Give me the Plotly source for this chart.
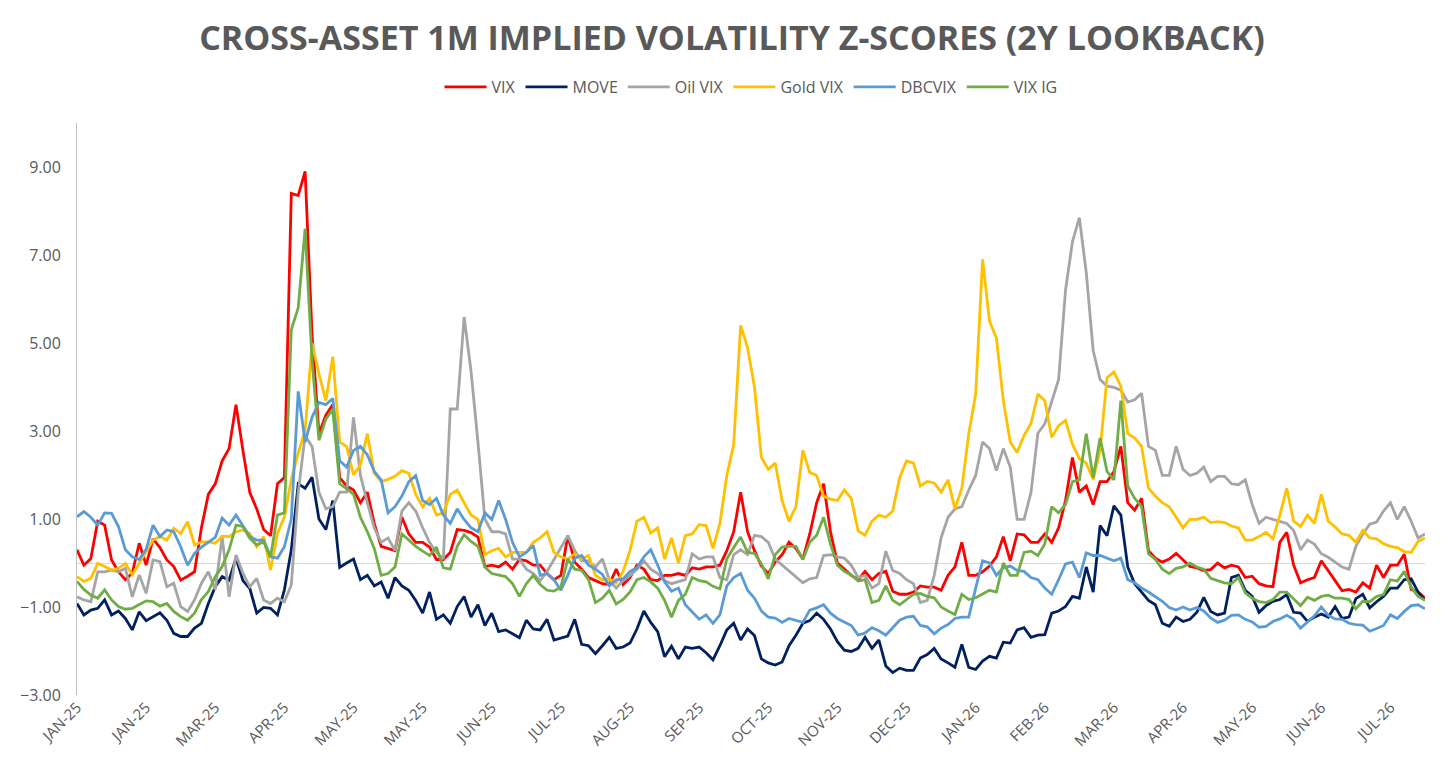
import plotly.graph_objects as go

# ---- data (one point every ~2 trading days) ----
tick_labels = ["JAN-25", "JAN-25", "MAR-25", "APR-25", "MAY-25", "MAY-25", "JUN-25", "JUL-25",
               "AUG-25", "SEP-25", "OCT-25", "NOV-25", "DEC-25", "JAN-26", "FEB-26", "MAR-26",
               "APR-26", "MAY-26", "JUN-26", "JUL-26"]

vix = [0.3, -0.05, 0.1, 0.95, 0.86, 0.07, -0.2, -0.38, -0.23, 0.45, -0.05, 0.55, 0.35, 0.07, -0.08, -0.39, -0.3, -0.2, 0.8, 1.56, 1.8, 2.32, 2.6, 3.6, 2.56, 1.6, 1.23, 0.76, 0.62, 1.8, 1.94, 8.4, 8.35, 8.9, 5.2,
       2.94, 3.36, 3.6, 1.94, 1.75, 1.66, 1.37, 1.61, 0.9, 0.38, 0.33, 0.28, 1.04, 0.66, 0.47, 0.47, 0.36, 0.08, 0.08, 0.24, 0.76, 0.74, 0.69, 0.59, -0.08, -0.05, -0.09, 0.02, -0.14, 0.08, 0.05, -0.05,
       -0.05, -0.24, -0.38, -0.28, 0.62, 0.02, -0.14, -0.33, -0.4, -0.47, -0.49, -0.14, -0.49, -0.33, -0.05, -0.14, -0.38, -0.4, -0.28, -0.28, -0.24, -0.28, -0.11, -0.14, -0.09, -0.09, -0.05, 0.28, 0.71, 1.61, 0.71, 0.28, -0.07,
       -0.24, 0.02, 0.19, 0.47, 0.33, 0.09, 0.66, 1.37, 1.8, 0.71, 0.0, -0.14, -0.28, -0.38, -0.19, -0.38, -0.24, -0.19, -0.64, -0.71, -0.71, -0.66, -0.52, -0.55, -0.55, -0.62, -0.28, -0.09, 0.47, -0.28, -0.28, -0.2, -0.07,
       0.14, 0.6, 0.05, 0.66, 0.64, 0.47, 0.47, 0.66, 0.47, 0.8, 1.42, 2.4, 1.61, 1.75, 1.33, 1.85, 1.85, 2.08, 2.65, 1.37, 1.2, 1.47, 0.28, 0.11, 0.02, 0.09, 0.22, 0.07, -0.08, -0.11, -0.17, -0.15, 0.0,
       -0.11, -0.05, -0.09, -0.33, -0.3, -0.47, -0.52, -0.54, 0.47, 0.7, -0.05, -0.45, -0.38, -0.33, 0.05, -0.19, -0.4, -0.63, -0.6, -0.66, -0.45, -0.57, -0.05, -0.33, -0.05, -0.05, 0.2, -0.6, -0.66, -0.8]

move = [-0.92, -1.18, -1.07, -1.03, -0.84, -1.18, -1.09, -1.26, -1.52, -1.11, -1.31, -1.22, -1.13, -1.3, -1.6, -1.67, -1.67, -1.48, -1.37, -0.92, -0.54, -0.31, -0.39, 0.11, -0.4, -0.58, -1.14, -1.01, -1.03, -1.18, -0.61, 0.3, 1.8, 1.7, 1.95,
        1.0, 0.76, 1.42, -0.1, 0.0, 0.09, -0.38, -0.28, -0.52, -0.43, -0.8, -0.33, -0.52, -0.62, -0.85, -1.14, -0.66, -1.28, -1.18, -1.37, -0.99, -0.76, -1.23, -0.95, -1.42, -1.14, -1.56, -1.52, -1.61, -1.7, -1.3, -1.5,
        -1.52, -1.28, -1.75, -1.7, -1.66, -1.28, -1.85, -1.88, -2.06, -1.88, -1.69, -1.94, -1.91, -1.82, -1.5, -1.09, -1.35, -1.56, -2.13, -1.89, -2.18, -1.91, -1.94, -1.91, -2.04, -2.2, -1.88, -1.52, -1.37, -1.75, -1.5, -1.65, -2.18,
        -2.27, -2.32, -2.25, -1.88, -1.64, -1.37, -1.31, -1.14, -1.28, -1.5, -1.79, -1.98, -2.01, -1.94, -1.69, -1.94, -1.75, -2.34, -2.49, -2.39, -2.44, -2.44, -2.16, -2.08, -1.94, -2.18, -2.27, -2.37, -1.85, -2.37, -2.42, -2.23, -2.12,
        -2.16, -1.8, -1.82, -1.52, -1.47, -1.69, -1.64, -1.63, -1.14, -1.09, -0.99, -0.76, -0.8, -0.09, -0.66, 0.85, 0.62, 1.3, 1.09, -0.09, -0.47, -0.66, -0.85, -0.95, -1.37, -1.44, -1.23, -1.33, -1.28, -1.12, -0.78, -1.1, -1.18,
        -1.14, -0.33, -0.28, -0.62, -0.76, -1.12, -0.97, -0.87, -0.83, -0.72, -1.12, -1.14, -1.33, -1.23, -1.16, -1.23, -0.99, -1.26, -1.23, -0.81, -0.71, -1.02, -0.88, -0.76, -0.57, -0.57, -0.38, -0.36, -0.66, -0.85]

oil_vix = [-0.77, -0.84, -0.88, -0.2, -0.2, -0.16, -0.2, -0.12, -0.77, -0.27, -0.69, 0.07, 0.03, -0.54, -0.46, -0.99, -1.1, -0.84, -0.46, -0.2, -0.61, 0.6, -0.77, 0.18, -0.23, -0.54, -0.35, -0.84, -0.92, -0.8, -0.88, -0.5, 1.6, 2.9, 2.65,
           1.61, 1.23, 1.28, 1.61, 1.61, 3.31, 1.99, 1.37, 0.8, 0.47, 0.57, 0.28, 1.18, 1.37, 1.18, 0.8, 0.47, 0.24, 0.09, 3.5, 3.5, 5.59, 4.36, 2.75, 1.0, 0.71, 0.71, 0.66, 0.09, 0.09, -0.14, -0.24,
           -0.4, -0.19, 0.09, 0.36, 0.62, 0.28, 0.05, 0.05, -0.09, 0.09, -0.38, -0.57, -0.4, -0.28, -0.14, 0.05, -0.14, -0.24, -0.4, -0.47, -0.43, -0.38, 0.21, 0.09, 0.14, 0.14, -0.33, -0.38, 0.19, 0.3, 0.19, 0.63, 0.6,
           0.47, 0.09, -0.05, -0.19, -0.33, -0.45, -0.36, -0.33, 0.17, 0.19, 0.14, 0.11, -0.05, -0.33, -0.28, -0.57, -0.47, 0.27, -0.17, -0.24, -0.38, -0.47, -0.9, -0.85, -0.28, 0.57, 1.04, 1.23, 1.28, 1.66, 1.99, 2.75, 2.6,
           2.1, 2.6, 2.18, 0.99, 0.99, 1.6, 2.95, 3.16, 3.65, 4.17, 6.2, 7.3, 7.85, 6.6, 4.83, 4.17, 4.02, 3.99, 3.93, 3.66, 3.71, 3.86, 2.65, 2.56, 1.99, 1.99, 2.65, 2.13, 1.99, 2.04, 2.18, 1.85, 1.97,
           1.97, 1.8, 1.78, 1.89, 1.33, 0.9, 1.04, 0.99, 0.95, 0.9, 0.74, 0.3, 0.52, 0.43, 0.21, 0.13, 0.02, -0.09, -0.14, 0.38, 0.66, 0.88, 0.93, 1.18, 1.37, 0.99, 1.28, 0.95, 0.57, 0.66]

gold_vix = [-0.31, -0.42, -0.35, -0.01, -0.08, -0.16, -0.12, -0.01, -0.27, -0.01, 0.26, 0.52, 0.6, 0.52, 0.79, 0.67, 0.94, 0.41, 0.48, 0.48, 0.45, 0.61, 0.6, 0.71, 0.75, 0.67, 0.37, 0.6, -0.16, 0.67, 1.05, 1.9, 2.5, 3.0, 5.0,
            4.3, 3.69, 4.69, 2.75, 2.65, 2.0, 2.23, 2.94, 2.04, 1.85, 1.9, 1.97, 2.1, 2.04, 1.56, 1.28, 1.47, 1.09, 1.14, 1.56, 1.66, 1.37, 1.09, 0.99, 0.19, 0.28, 0.33, 0.14, 0.24, 0.24, 0.24, 0.47,
            0.57, 0.71, 0.24, 0.14, 0.09, 0.21, 0.09, 0.17, -0.28, -0.38, -0.36, -0.45, -0.19, 0.28, 0.95, 1.04, 0.68, 0.8, 0.09, 0.57, 0.0, 0.62, 0.66, 0.87, 0.85, 0.33, 0.9, 1.99, 2.7, 5.4, 4.9, 4.0, 2.4,
            2.13, 2.27, 1.42, 0.95, 1.28, 2.56, 2.06, 1.99, 1.52, 1.45, 1.42, 1.66, 1.47, 0.73, 0.63, 0.95, 1.09, 1.04, 1.18, 1.94, 2.32, 2.27, 1.75, 1.85, 1.82, 1.61, 1.89, 1.23, 1.7, 2.94, 3.84, 6.9, 5.5,
            5.11, 3.69, 2.75, 2.51, 2.9, 3.17, 3.84, 3.69, 2.86, 3.12, 3.24, 2.7, 2.37, 2.27, 1.89, 2.56, 4.21, 4.34, 4.02, 2.94, 2.84, 2.65, 1.7, 1.52, 1.37, 1.28, 1.04, 0.8, 0.99, 0.99, 1.04, 0.92, 0.94,
            0.92, 0.84, 0.8, 0.52, 0.52, 0.6, 0.7, 0.55, 1.09, 1.7, 0.95, 0.83, 1.09, 0.9, 1.56, 0.95, 0.82, 0.66, 0.63, 0.47, 0.74, 0.57, 0.55, 0.44, 0.38, 0.35, 0.26, 0.24, 0.49, 0.57]

dbcvix = [1.05, 1.17, 1.04, 0.86, 1.14, 1.13, 0.83, 0.3, 0.14, 0.08, 0.31, 0.86, 0.6, 0.75, 0.71, 0.37, -0.05, 0.22, 0.36, 0.48, 0.58, 1.02, 0.86, 1.09, 0.83, 0.6, 0.52, 0.52, 0.14, 0.11, 0.37, 1.0, 3.9, 2.75, 3.31,
          3.65, 3.6, 3.74, 2.32, 2.18, 2.56, 2.65, 2.46, 2.08, 1.89, 1.14, 1.28, 1.52, 1.85, 1.99, 1.42, 1.33, 1.47, 1.09, 0.9, 1.23, 0.99, 0.8, 0.71, 1.14, 0.99, 1.42, 0.99, 0.47, 0.14, 0.24, 0.4,
          -0.28, -0.24, -0.38, -0.62, -0.28, 0.11, 0.17, -0.05, -0.14, -0.26, -0.52, -0.38, -0.36, -0.19, -0.11, 0.14, 0.3, -0.05, -0.43, -0.64, -0.57, -0.95, -1.12, -1.28, -1.18, -1.37, -1.18, -0.52, -0.33, -0.24, -0.62, -0.8, -1.09,
          -1.23, -1.25, -1.35, -1.26, -1.31, -1.35, -1.07, -1.02, -0.95, -1.14, -1.26, -1.34, -1.42, -1.64, -1.59, -1.47, -1.54, -1.64, -1.47, -1.3, -1.23, -1.21, -1.42, -1.45, -1.61, -1.48, -1.4, -1.26, -1.23, -1.23, -0.57, 0.05, 0.0,
          -0.28, -0.11, -0.07, -0.17, -0.19, -0.33, -0.38, -0.57, -0.71, -0.38, -0.02, 0.02, -0.33, 0.23, 0.17, 0.17, 0.11, 0.05, 0.11, -0.38, -0.45, -0.57, -0.66, -0.76, -0.87, -1.01, -1.07, -1.0, -1.07, -1.01, -1.09, -1.25, -1.35,
          -1.3, -1.19, -1.18, -1.28, -1.34, -1.46, -1.44, -1.33, -1.27, -1.19, -1.28, -1.48, -1.34, -1.2, -1.0, -1.19, -1.27, -1.28, -1.37, -1.4, -1.41, -1.55, -1.49, -1.42, -1.18, -1.26, -1.1, -0.97, -0.95, -1.04]

vix_ig = [-0.42, -0.6, -0.73, -0.8, -0.61, -0.84, -0.99, -1.05, -1.03, -0.95, -0.86, -0.88, -0.98, -0.92, -1.1, -1.22, -1.3, -1.14, -0.83, -0.65, -0.31, -0.08, 0.3, 0.86, 0.83, 0.56, 0.41, 0.48, 0.14, 1.09, 1.14, 5.3, 5.8, 7.6, 4.6,
          2.79, 3.27, 3.5, 1.8, 1.69, 1.56, 1.04, 0.71, 0.33, -0.28, -0.24, -0.09, 0.66, 0.52, 0.38, 0.27, 0.17, 0.36, -0.11, -0.14, 0.38, 0.64, 0.49, 0.38, -0.09, -0.24, -0.28, -0.31, -0.47, -0.76, -0.47, -0.28,
          -0.49, -0.62, -0.64, -0.54, 0.09, -0.14, -0.17, -0.38, -0.9, -0.8, -0.62, -0.93, -0.83, -0.66, -0.38, -0.33, -0.43, -0.57, -0.85, -1.23, -0.85, -0.71, -0.33, -0.4, -0.43, -0.53, -0.59, 0.09, 0.35, 0.59, 0.24, 0.22, -0.02,
          -0.36, 0.19, 0.36, 0.38, 0.38, 0.08, 0.47, 0.63, 1.04, 0.43, -0.05, -0.19, -0.27, -0.41, -0.38, -0.9, -0.85, -0.52, -0.85, -0.95, -0.83, -0.71, -0.69, -0.76, -0.79, -1.0, -1.09, -1.17, -0.71, -0.83, -0.79, -0.71, -0.62,
          -0.66, 0.0, -0.28, -0.28, 0.24, 0.27, 0.17, 0.43, 1.28, 1.14, 1.33, 1.85, 1.89, 2.94, 1.94, 2.84, 2.08, 1.89, 3.69, 1.75, 1.47, 1.28, 0.21, 0.08, -0.14, -0.24, -0.12, -0.09, 0.0, -0.09, -0.14, -0.35, -0.4,
          -0.45, -0.47, -0.33, -0.68, -0.8, -0.88, -0.9, -0.83, -0.66, -0.66, -0.82, -0.97, -0.78, -0.85, -0.76, -0.73, -0.8, -0.8, -0.83, -1.04, -0.87, -0.88, -0.76, -0.72, -0.38, -0.41, -0.19, -0.55, -0.76, -0.85]

series_names = ["VIX", "MOVE", "Oil VIX", "Gold VIX", "DBCVIX", "VIX IG"]
series_values = [vix, move, oil_vix, gold_vix, dbcvix, vix_ig]
series_colors = ["#FF0000", "#002060", "#A5A5A5", "#FFC000", "#5B9BD5", "#70AD47"]

n = len(vix)
x = list(range(n))
tick_step = 10
tick_vals = [i * tick_step for i in range(len(tick_labels))]

fig = go.Figure()
for name, vals, col in zip(series_names, series_values, series_colors):
    fig.add_trace(go.Scatter(x=x, y=vals, mode="lines", name=name,
                             line=dict(color=col, width=2.8)))

grey = "#595959"
# The page body adds an 8 px offset, so the figure is 8 px smaller on each axis.
W, H = 1448, 764
fig.update_layout(
    width=W, height=H,
    paper_bgcolor="white", plot_bgcolor="white",
    margin=dict(l=55, r=31, t=115, b=77),
    font=dict(family="Open Sans", color=grey),
    title=dict(text="<b>CROSS-ASSET 1M IMPLIED VOLATILITY Z-SCORES (2Y LOOKBACK)</b>",
               x=0.5, xanchor="center", y=1 - 30 / H, yanchor="middle",
               font=dict(family="Open Sans", size=34, color=grey)),
    legend=dict(orientation="h", x=0.5, xanchor="center", y=1.063, yanchor="middle",
                font=dict(size=16, color=grey), bgcolor="rgba(0,0,0,0)",
                itemwidth=42),
    showlegend=True,
)
fig.update_xaxes(range=[0, n - 1], tickmode="array", tickvals=tick_vals, ticktext=tick_labels,
                 tickangle=-45, showgrid=False, zeroline=False, showline=False,
                 tickfont=dict(size=15, color=grey), ticks="")
fig.update_yaxes(range=[-3, 10], tickmode="array", tickvals=[-3, -1, 1, 3, 5, 7, 9],
                 tickformat=".2f", showgrid=False, zeroline=True, zerolinecolor="#D9D9D9",
                 zerolinewidth=1, showline=True, linecolor="#BFBFBF", linewidth=1,
                 tickfont=dict(size=16, color=grey), ticks="", ticklabelstandoff=12)

fig.write_html("out.html")
